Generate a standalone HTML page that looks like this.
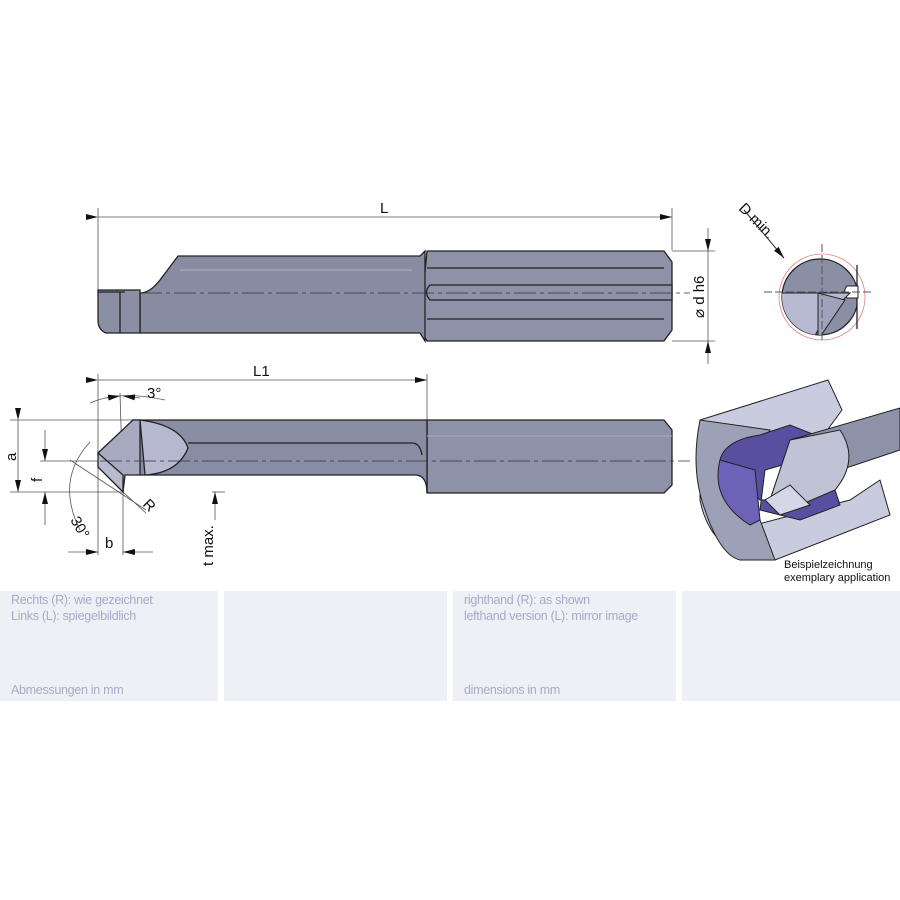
<!DOCTYPE html>
<html><head><meta charset="utf-8"><style>
html,body{margin:0;padding:0;background:#fff;width:900px;height:900px;overflow:hidden}
svg{display:block}
text{font-family:"Liberation Sans",sans-serif}
.p{position:absolute;background:#eff0f5;top:591px;height:110px;color:#a6abc6;font:12.5px "Liberation Sans",sans-serif;letter-spacing:-0.3px}
.p div{position:absolute;left:11px}
</style></head><body>
<svg width="900" height="900" viewBox="0 0 900 900" style="position:absolute;left:0;top:0">
<defs>
<marker id="a" markerWidth="12" markerHeight="6" refX="12" refY="3" orient="auto" markerUnits="userSpaceOnUse"><path d="M0,0L12,3L0,6z" fill="#111"/></marker>
<clipPath id="c"><rect x="770" y="250" width="87" height="100"/></clipPath>
<clipPath id="c2"><circle cx="820" cy="297" r="38"/></clipPath>
</defs>
<g stroke="#555" stroke-width="0.8" fill="none">
<line x1="98" y1="208" x2="98" y2="290"/><line x1="672" y1="208" x2="672" y2="250"/>
<line x1="98" y1="217" x2="672" y2="217" marker-end="url(#a)" marker-start="url(#a)"/>
<line x1="672" y1="251" x2="715" y2="251"/><line x1="672" y1="341" x2="715" y2="341"/>
<line x1="708" y1="228" x2="708" y2="251" marker-end="url(#a)"/><line x1="708" y1="364" x2="708" y2="341" marker-end="url(#a)"/>
<line x1="708" y1="251" x2="708" y2="341"/>
</g>
<g fill="#111" font-size="15">
<text x="380" y="213">L</text>
<text x="0" y="0" transform="translate(704,318) rotate(-90)">⌀ d h6</text>
<text x="0" y="0" transform="translate(738,209) rotate(45)">D min.</text>
</g>
<g stroke="#222" stroke-width="1.3">
<path d="M427,251L664,251L672,262L672,330L664,341L427,341L422,333L420,325Z" fill="#8d92a8"/>
<path d="M140,293Q150,293 160,280L178,256L420,256L425,251L425,341L420,333L140,333Z" fill="#878ca2"/>
<path d="M98,290L140,290L140,333L106,333Q98,330 98,320Z" fill="#8a8fa4"/>
<path d="M98,292L125,292M120,292L120,333" fill="none"/>
<path d="M427,268L664,268M427,319L664,319" fill="none"/>
<path d="M430,285L672,285L672,300L430,300Q423,292 430,285Z" fill="#8d92a8"/>
</g>
<path d="M180,270L412,270" stroke="#b0b4c4" stroke-width="1"/>
<line x1="140" y1="293" x2="690" y2="293" stroke="#333" stroke-width="0.8" stroke-dasharray="22,4,4,4"/>
<!-- end view -->
<circle cx="822" cy="297" r="43" fill="none" stroke="#e38080" stroke-width="0.8"/>
<g clip-path="url(#c)">
<circle cx="820" cy="297" r="38" fill="#8a8fa6" stroke="#222" stroke-width="1.3"/>
</g>
<line x1="857" y1="265" x2="857" y2="329" stroke="#222" stroke-width="1.3"/>
<path d="M858,286L847,286Q842,292 847,298L858,298Z" fill="#fff" stroke="#222" stroke-width="1"/>
<g clip-path="url(#c2)">
<path d="M770,293L850,293L835,308L818,330L810,345L770,345Z" fill="#b7bad0" stroke="#222" stroke-width="1"/>
<path d="M818,293L818,340L845,300Z" fill="#9ea2ba" stroke="#222" stroke-width="1"/>
</g>
<line x1="764" y1="292" x2="872" y2="292" stroke="#555" stroke-dasharray="8,3"/>
<line x1="822" y1="244" x2="822" y2="340" stroke="#555" stroke-dasharray="8,3"/>
<line x1="744" y1="210" x2="784" y2="258" stroke="#222" marker-end="url(#a)"/>
<!-- L1 dim -->
<g stroke="#555" stroke-width="0.8" fill="none">
<line x1="98" y1="374" x2="98" y2="555"/><line x1="427" y1="374" x2="427" y2="420"/>
<line x1="98" y1="380" x2="427" y2="380" marker-end="url(#a)" marker-start="url(#a)"/>
<line x1="10" y1="420" x2="135" y2="420"/><line x1="10" y1="492" x2="122" y2="492"/>
<line x1="18" y1="420" x2="18" y2="492" marker-end="url(#a)" marker-start="url(#a)"/>
<line x1="40" y1="461" x2="100" y2="461"/>
<line x1="45" y1="430" x2="45" y2="461" marker-end="url(#a)"/><line x1="45" y1="525" x2="45" y2="492" marker-end="url(#a)"/>
<line x1="123" y1="492" x2="123" y2="555"/>
<line x1="68" y1="552" x2="98" y2="552" marker-end="url(#a)"/><line x1="153" y1="552" x2="123" y2="552" marker-end="url(#a)"/>
<line x1="215" y1="443" x2="215" y2="475" marker-end="url(#a)"/><line x1="215" y1="520" x2="215" y2="492" marker-end="url(#a)"/>
<line x1="212" y1="492" x2="225" y2="492"/>
<path d="M90,403Q120,390 165,400"/><line x1="105" y1="398" x2="120" y2="396" marker-end="url(#a)"/><line x1="140" y1="398" x2="123" y2="396" marker-end="url(#a)"/>
<line x1="120" y1="393" x2="123" y2="492"/>
<path d="M90,442Q55,480 80,530"/><line x1="70" y1="460" x2="146" y2="510"/>
<line x1="123" y1="492" x2="146" y2="513"/>
</g>
<g stroke="#222" stroke-width="1.3">
<path d="M427,420L664,420L672,430L672,485L664,493L427,493L427,475Z" fill="#8d92a8"/>
<path d="M133,420L427,420L427,493Q427,475 415,475L140,475Z" fill="#888da3"/>
<path d="M188,443L412,443Q420,443 422,455" fill="none"/>
<path d="M98,453L133,420L140,420L140,475L125,475L123,492Z" fill="#a7aac0"/>
<path d="M98,453L98,467L123,492L123,475Z" fill="#b8bbd0"/>
<path d="M140,420Q180,425 188,448Q178,473 145,475Z" fill="#b5b8cf"/>
</g>
<line x1="427" y1="436" x2="672" y2="436" stroke="#a7abbd"/>
<line x1="100" y1="461" x2="690" y2="461" stroke="#333" stroke-width="0.8" stroke-dasharray="22,4,4,4"/>
<g fill="#111" font-size="15">
<text x="253" y="376">L1</text>
<text x="147" y="398">3°</text>
<text x="0" y="0" transform="translate(16,461) rotate(-90)">a</text>
<text x="0" y="0" transform="translate(42,482) rotate(-90)">f</text>
<text x="0" y="0" transform="translate(70,520) rotate(60)">30°</text>
<text x="105" y="548">b</text>
<text x="0" y="0" transform="translate(142,505) rotate(45)">R</text>
<text x="0" y="0" transform="translate(213,566) rotate(-90)">t max.</text>
</g>
<!-- 3D view -->
<g stroke="#222" stroke-width="1">
<path d="M700,420L828,380L842,410L820,440L760,470L755,525L850,500L880,480L890,515L775,560Q712,560 700,500Z" fill="#c9cbde"/>
<path d="M700,420Q690,470 705,510Q720,555 740,560L775,560L760,520Q745,470 770,430Z" fill="#9da1b8"/>
<path d="M720,460Q725,440 760,435L790,425L815,435L800,460L765,470L760,510L800,520L840,505L835,490Q790,500 760,500Z" fill="#5a4ea0"/>
<path d="M720,460Q710,500 750,525L760,520L755,470Z" fill="#6e62b8"/>
<path d="M790,440L900,408L900,450L840,470Q820,500 790,505L770,500Z" fill="#8d92a8"/>
<path d="M790,440L840,430Q860,460 835,490L800,505L770,500Z" fill="#c0c3d6"/>
<path d="M765,500L790,485L810,505L780,515Z" fill="#d5d7e6"/>
</g>
<text x="784" y="568" font-size="11" fill="#111">Beispielzeichnung</text>
<text x="784" y="581" font-size="11" fill="#111">exemplary application</text>
</svg>
<div class="p" style="left:0;width:218px"><div style="top:2px">Rechts (R): wie gezeichnet</div><div style="top:18px">Links (L): spiegelbildlich</div><div style="top:92px">Abmessungen in mm</div></div>
<div class="p" style="left:224px;width:223px"></div>
<div class="p" style="left:453px;width:223px"><div style="top:2px">righthand (R): as shown</div><div style="top:18px">lefthand version (L): mirror image</div><div style="top:92px">dimensions in mm</div></div>
<div class="p" style="left:682px;width:218px"></div>
</body></html>
